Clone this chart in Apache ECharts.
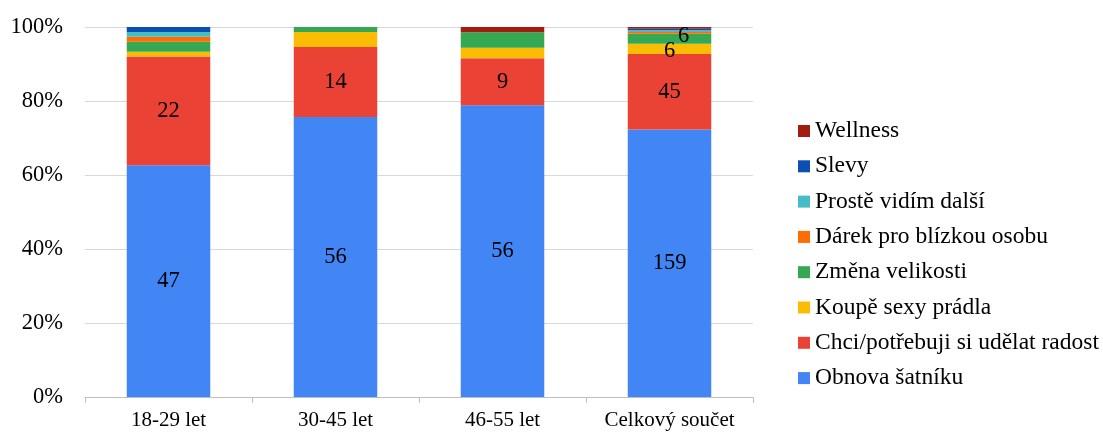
<!DOCTYPE html>
<html>
<head>
    <meta charset="UTF-8">
    <title>echarts</title>
    <style>
        html, body { margin: 0; padding: 0; background: #fff; }
        #chart { width: 1103px; height: 432px; }
    </style>
    <script src="https://cdn.jsdelivr.net/npm/echarts@6/dist/echarts.min.js"></script>
</head>
<body>
<div id="chart"></div>
<script>
    // categories and raw counts
    const categories = ['18-29 let', '30-45 let', '46-55 let', 'Celkový součet'];
    const seriesNames = ['Obnova šatníku', 'Chci/potřebuji si udělat radost', 'Koupě sexy prádla',
        'Změna velikosti', 'Dárek pro blízkou osobu', 'Prostě vidím další', 'Slevy', 'Wellness'];
    const obnova   = [47, 56, 56, 159];
    const radost   = [22, 14, 9, 45];
    const pradlo   = [1, 3, 2, 6];
    const velikost = [2, 1, 3, 6];
    const darek    = [1, 0, 0, 1];
    const vidim    = [1, 0, 0, 1];
    const slevy    = [1, 0, 0, 1];
    const wellness = [0, 0, 1, 1];
    const yTicks = [0, 20, 40, 60, 80, 100];

    const colors = ['#4285f4', '#ea4335', '#fbbc04', '#34a853', '#ff6d01', '#46bdc6', '#0b4fb3', '#a21c12'];
    const allCounts = [obnova, radost, pradlo, velikost, darek, vidim, slevy, wellness];

    const totals = categories.map((c, i) => allCounts.reduce((s, arr) => s + arr[i], 0));

    const serif = '"Liberation Serif", "DejaVu Serif", serif';

    let series = allCounts.map((arr, k) => ({
        name: seriesNames[k],
        type: 'bar',
        stack: 'all',
        barWidth: '50%',
        itemStyle: {color: colors[k]},
        label: {
            show: true,
            position: 'inside',
            color: '#000',
            fontFamily: serif,
            fontSize: 22.5,
            formatter: p => (p.data.count >= 5 ? String(p.data.count) : '')
        },
        data: arr.map((n, i) => {
            let d = {value: n / totals[i] * 100, count: n};
            // Excel nudged the overlapping small labels aside
            if (k === 3 && i === 3) d.label = {offset: [14, -3]};
            if (k === 2 && i === 3) d.label = {offset: [0, 2]};
            return d;
        })
    }));

    let chart = echarts.init(document.getElementById('chart'), null, {renderer: 'canvas'});
    chart.setOption({
        animation: false,
        grid: {left: 85, right: 350, top: 27, bottom: 35},
        legend: {
            orient: 'vertical',
            left: 793,
            top: 114,
            itemWidth: 12,
            itemHeight: 12,
            itemGap: 11.3,
            icon: 'rect',
            data: seriesNames.slice().reverse(),
            textStyle: {fontFamily: serif, fontSize: 23.5, color: '#000', lineHeight: 24}
        },
        xAxis: {
            type: 'category',
            data: categories,
            axisLine: {lineStyle: {color: '#bfbfbf'}},
            axisTick: {show: true, interval: 0, length: 6, lineStyle: {color: '#bfbfbf'}},
            axisLabel: {interval: 0, hideOverlap: false, fontFamily: serif, fontSize: 21, color: '#000', margin: 13}
        },
        yAxis: {
            type: 'value',
            min: yTicks[0],
            max: yTicks[yTicks.length - 1],
            interval: 20,
            axisLine: {show: false},
            axisTick: {show: false},
            splitLine: {lineStyle: {color: '#d9d9d9'}},
            axisLabel: {fontFamily: serif, fontSize: 22.5, color: '#000', margin: 22, formatter: '{value}%'}
        },
        series: series
    });
</script>
</body>
</html>
